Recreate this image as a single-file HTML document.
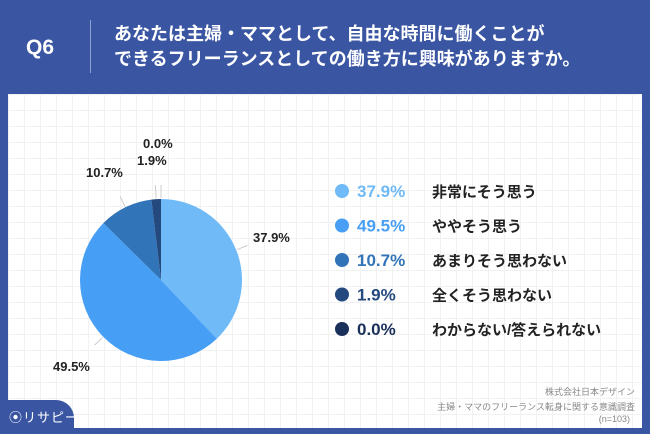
<!DOCTYPE html>
<html><head><meta charset="utf-8">
<style>
body{margin:0;width:650px;height:434px;overflow:hidden;background:#3a56a3;font-family:"Liberation Sans","Noto Sans CJK JP",sans-serif;}
#wrap{position:relative;width:650px;height:434px;}
.abs{position:absolute;}
.foot{position:absolute;right:15px;color:#888;font-size:9px;white-space:nowrap;}
</style></head><body>
<div id="wrap">
<div class="abs" style="left:0;top:0;width:650px;height:94px;background:#3a56a3;"></div>
<div class="abs" style="left:26px;top:36px;color:#fff;font-size:21px;font-weight:bold;">Q6</div>
<div class="abs" style="left:90px;top:20px;width:1px;height:53px;background:#8ea0cf;"></div>
<div class="abs" style="left:114px;top:22px;color:#fff;font-size:18px;font-weight:bold;line-height:25px;white-space:nowrap;">あなたは主婦・ママとして、自由な時間に働くことが<br>できるフリーランスとしての働き方に興味がありますか。</div>
<div class="abs" style="left:8px;top:94px;width:634px;height:334px;background-color:#fff;background-image:linear-gradient(#f1f1f1 1px,transparent 1px),linear-gradient(90deg,#f1f1f1 1px,transparent 1px);background-size:16px 16px;"></div>
<svg class="abs" style="left:0;top:0" width="650" height="434" id="svg"></svg>
<div class="abs" style="left:0;top:400px;width:74px;height:34px;background:#3a56a3;border-top-right-radius:18px;"></div>
<div class="abs" style="left:9px;top:407px;color:#fff;font-size:13px;letter-spacing:1px;">⦿リサピー</div>
<div class="foot" style="top:385px;">株式会社日本デザイン</div>
<div class="foot" style="top:400px;">主婦・ママのフリーランス転身に関する意識調査</div>
<div class="foot" style="top:414px;right:20px;">(n=103)</div>
</div>
<script>
const categories=["非常にそう思う","ややそう思う","あまりそう思わない","全くそう思わない","わからない/答えられない"];
const values=[37.9,49.5,10.7,1.9,0.0];
const valueLabels=["37.9%","49.5%","10.7%","1.9%","0.0%"];
const colors=["#6fbaf7","#479ff5","#3274b8","#24497e","#1a2f5a"];
const NS="http://www.w3.org/2000/svg";
const svg=document.getElementById('svg');
const cx=161,cy=280,r=81;
const total=values.reduce((a,b)=>a+b,0);
function pt(a,rr){return [cx+rr*Math.sin(a),cy-rr*Math.cos(a)];}
let acc=0;
const labelPos=[[253,237],[53,366],[86,172],[137,160],[143,143]];
values.forEach((v,i)=>{
  const a0=acc/total*2*Math.PI;acc+=v;const a1=acc/total*2*Math.PI;
  if(v>0){
    const p0=pt(a0,r),p1=pt(a1,r);
    const path=document.createElementNS(NS,'path');
    path.setAttribute('d',`M${cx},${cy}L${p0[0]},${p0[1]}A${r},${r} 0 ${a1-a0>Math.PI?1:0} 1 ${p1[0]},${p1[1]}Z`);
    path.setAttribute('fill',colors[i]);
    
    
    svg.appendChild(path);
  }
  const am=(a0+a1)/2;
  const e=pt(am,r+1),o=pt(am,r+(v<5?14:12));
  const ln=document.createElementNS(NS,'line');
  ln.setAttribute('x1',e[0]);ln.setAttribute('y1',e[1]);ln.setAttribute('x2',o[0]);ln.setAttribute('y2',o[1]);
  ln.setAttribute('stroke','#ccc');ln.setAttribute('stroke-width','1');
  
  
  svg.appendChild(ln);
  const t=document.createElementNS(NS,'text');
  t.setAttribute('x',labelPos[i][0]);t.setAttribute('y',labelPos[i][1]+5);
  t.setAttribute('font-size','13');t.setAttribute('font-weight','bold');t.setAttribute('fill','#222');
  t.textContent=valueLabels[i];
  
  
  svg.appendChild(t);
  const y=191+i*34.5;
  const c=document.createElementNS(NS,'circle');
  c.setAttribute('cx',342);c.setAttribute('cy',y);c.setAttribute('r',7);c.setAttribute('fill',colors[i]);
  
  
  svg.appendChild(c);
  const tp=document.createElementNS(NS,'text');
  tp.setAttribute('x',357);tp.setAttribute('y',y+6);tp.setAttribute('font-size','17');tp.setAttribute('font-weight','bold');tp.setAttribute('fill',colors[i]);
  tp.textContent=valueLabels[i];
  
  
  svg.appendChild(tp);
  const tl=document.createElementNS(NS,'text');
  tl.setAttribute('x',432);tl.setAttribute('y',y+6);tl.setAttribute('font-size','15');tl.setAttribute('font-weight','bold');tl.setAttribute('fill','#222');
  tl.textContent=categories[i];
  
  
  svg.appendChild(tl);
});
</script>
</body></html>
